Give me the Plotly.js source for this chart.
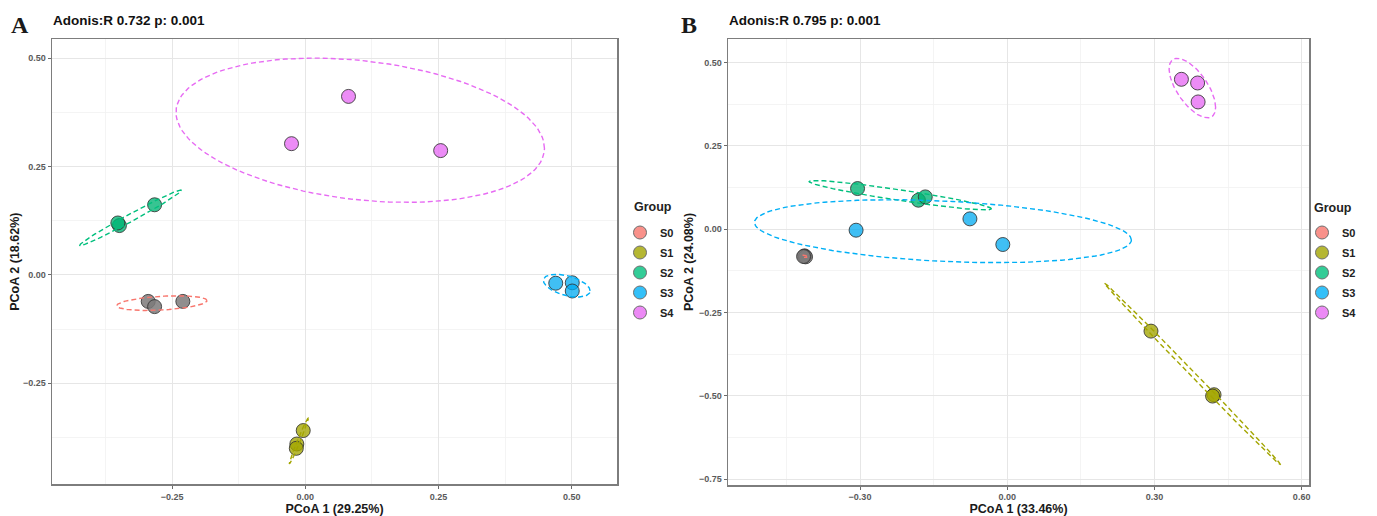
<!DOCTYPE html>
<html>
<head>
<meta charset="utf-8">
<script src="https://cdn.plot.ly/plotly-3.0.1.min.js"></script>
<style>
  html, body { margin: 0; padding: 0; background: #ffffff; }
  #chart { width: 1377px; height: 516px; }
</style>
</head>
<body>
<div id="chart"></div>
<script>
// ---------------- data ----------------
const groups = ['S0', 'S1', 'S2', 'S3', 'S4'];

// Panel A (PCoA 1 29.25%, PCoA 2 18.62%)
const A_S0_x = [-0.295, -0.283, -0.230];
const A_S0_y = [-0.061, -0.073, -0.061];
const A_S1_x = [-0.004, -0.016, -0.017];
const A_S1_y = [-0.359, -0.390, -0.400];
const A_S2_x = [-0.349, -0.352, -0.283];
const A_S2_y = [0.114, 0.120, 0.162];
const A_S3_x = [0.470, 0.501, 0.501];
const A_S3_y = [-0.019, -0.018, -0.037];
const A_S4_x = [0.081, -0.026, 0.254];
const A_S4_y = [0.412, 0.303, 0.287];

// Panel B (PCoA 1 33.46%, PCoA 2 24.08%)
const B_S0_x = [-0.413, -0.411, -0.415];
const B_S0_y = [-0.080, -0.083, -0.082];
const B_S1_x = [0.293, 0.4215, 0.4185];
const B_S1_y = [-0.306, -0.497, -0.501];
const B_S2_x = [-0.305, -0.181, -0.167];
const B_S2_y = [0.122, 0.087, 0.097];
const B_S3_x = [-0.308, -0.076, -0.009];
const B_S3_y = [-0.003, 0.031, -0.046];
const B_S4_x = [0.355, 0.388, 0.389];
const B_S4_y = [0.450, 0.439, 0.382];

const panelA = { S0: [A_S0_x, A_S0_y], S1: [A_S1_x, A_S1_y], S2: [A_S2_x, A_S2_y], S3: [A_S3_x, A_S3_y], S4: [A_S4_x, A_S4_y] };
const panelB = { S0: [B_S0_x, B_S0_y], S1: [B_S1_x, B_S1_y], S2: [B_S2_x, B_S2_y], S3: [B_S3_x, B_S3_y], S4: [B_S4_x, B_S4_y] };

const titleA = 'Adonis:R 0.732 p: 0.001';
const titleB = 'Adonis:R 0.795 p: 0.001';
const xTitleA = 'PCoA 1 (29.25%)';
const yTitleA = 'PCoA 2 (18.62%)';
const xTitleB = 'PCoA 1 (33.46%)';
const yTitleB = 'PCoA 2 (24.08%)';
const legendTitle = 'Group';

// ---------------- styles ----------------
const palette = { S0: '#F8766D', S1: '#A3A500', S2: '#00BF7D', S3: '#00B0F6', S4: '#E76BF3' };
const pointFill = {
  S0: 'rgba(125,122,122,0.85)', S1: 'rgba(163,165,0,0.78)', S2: 'rgba(0,180,115,0.78)',
  S3: 'rgba(0,170,240,0.75)', S4: 'rgba(231,107,243,0.78)'
};
const legendFill = {
  S0: 'rgba(248,118,109,0.8)', S1: 'rgba(163,165,0,0.8)', S2: 'rgba(0,191,125,0.8)',
  S3: 'rgba(0,176,246,0.8)', S4: 'rgba(231,107,243,0.8)'
};
const SANS = '"Liberation Sans", Arial, Helvetica, sans-serif';

// 95% normal-theory ellipse from the sample covariance of the points
function ellipse(xs, ys) {
  const n = xs.length;
  const mx = xs.reduce((a, b) => a + b, 0) / n;
  const my = ys.reduce((a, b) => a + b, 0) / n;
  let sxx = 0, syy = 0, sxy = 0;
  for (let i = 0; i < n; i++) {
    sxx += (xs[i] - mx) ** 2; syy += (ys[i] - my) ** 2; sxy += (xs[i] - mx) * (ys[i] - my);
  }
  sxx /= (n - 1); syy /= (n - 1); sxy /= (n - 1);
  const r = Math.sqrt(-2 * Math.log(0.05));
  const a = Math.sqrt(sxx);
  const b = a > 0 ? sxy / a : 0;
  const c = Math.sqrt(Math.max(syy - b * b, 0));
  const ex = [], ey = [];
  for (let k = 0; k <= 120; k++) {
    const t = 2 * Math.PI * k / 120;
    ex.push(mx + r * a * Math.cos(t));
    ey.push(my + r * (b * Math.cos(t) + c * Math.sin(t)));
  }
  return [ex, ey];
}

const traces = [];
function addPanel(panel, xa, ya, legendName) {
  groups.forEach(g => {
    const [xs, ys] = panel[g];
    traces.push({
      type: 'scatter', mode: 'markers', x: xs, y: ys, xaxis: xa, yaxis: ya,
      showlegend: false, hoverinfo: 'x+y', name: g,
      marker: { size: 14, color: pointFill[g], line: { color: 'rgba(50,50,50,0.85)', width: 1 } }
    });
  });
  groups.forEach(g => {
    const [xs, ys] = panel[g];
    const [ex, ey] = ellipse(xs, ys);
    traces.push({
      type: 'scatter', mode: 'lines', x: ex, y: ey, xaxis: xa, yaxis: ya,
      showlegend: false, hoverinfo: 'skip',
      line: { color: palette[g], width: 1.4, dash: '5px,3px' }
    });
  });
  groups.forEach(g => {
    traces.push({
      type: 'scatter', mode: 'markers', x: [null], y: [null], xaxis: xa, yaxis: ya,
      name: g, legend: legendName, legendgroup: legendName + g, showlegend: true,
      marker: { size: 13, color: legendFill[g], line: { color: '#6e6e6e', width: 1 } }
    });
  });
}
addPanel(panelA, 'x', 'y', 'legend');
addPanel(panelB, 'x2', 'y2', 'legend2');

const W = 1377, H = 516;
const px = v => v / W;
const py = v => (H - v) / H;

function axisBase(extra, minorStep) {
  return Object.assign({
    showgrid: true, gridcolor: '#E6E6E6', gridwidth: 1,
    zeroline: false, showline: true, mirror: true, linecolor: '#7d7d7d', linewidth: 1.5,
    ticks: 'outside', ticklen: 3, tickwidth: 1, tickcolor: '#6a6a6a',
    tickfont: { family: SANS, size: 9, color: '#5a5a5a', weight: 'bold' },
    tickformat: '.2f', fixedrange: true,
    minor: { showgrid: true, gridcolor: '#F1F1F1', gridwidth: 0.8, dtick: minorStep, tick0: minorStep / 2 }
  }, extra);
}
const titleFont = { family: SANS, size: 12.5, color: '#1a1a1a', weight: 'bold' };

const legendBase = {
  xanchor: 'left', yanchor: 'top', bgcolor: 'rgba(0,0,0,0)', borderwidth: 0,
  font: { family: SANS, size: 11, color: '#222', weight: 'bold' },
  tracegroupgap: 1, itemclick: false, itemdoubleclick: false
};

const layout = {
  width: W, height: H, autosize: false,
  margin: { l: 0, r: 0, t: 0, b: 0 },
  paper_bgcolor: '#ffffff', plot_bgcolor: '#ffffff',
  showlegend: true,
  xaxis: axisBase({ domain: [px(52), px(617)], anchor: 'y', range: [-0.4756, 0.585], dtick: 0.25, tick0: 0,
    title: { text: xTitleA, font: titleFont, standoff: 1 } }, 0.25),
  yaxis: axisBase({ domain: [py(484.3), py(39)], anchor: 'x', range: [-0.483, 0.5445], dtick: 0.25, tick0: 0,
    title: { text: yTitleA, font: titleFont, standoff: 0 } }, 0.25),
  xaxis2: axisBase({ domain: [px(728), px(1309)], anchor: 'y2', range: [-0.569, 0.615], dtick: 0.3, tick0: 0,
    title: { text: xTitleB, font: titleFont, standoff: 1 } }, 0.3),
  yaxis2: axisBase({ domain: [py(485), py(39)], anchor: 'x2', range: [-0.768, 0.571], dtick: 0.25, tick0: 0,
    title: { text: yTitleB, font: titleFont, standoff: 2 } }, 0.25),
  legend: Object.assign({ x: px(620), y: py(218) }, legendBase),
  legend2: Object.assign({ x: px(1302), y: py(218) }, legendBase),
  annotations: [
    { text: 'A', xref: 'paper', yref: 'paper', x: px(20), y: py(25), xanchor: 'center', yanchor: 'middle', showarrow: false,
      font: { family: '"Liberation Serif", "Times New Roman", serif', size: 24, color: '#1a1a1a', weight: 'bold' } },
    { text: titleA, xref: 'paper', yref: 'paper', x: px(51), y: py(21), xanchor: 'left', yanchor: 'middle', showarrow: false,
      font: { family: SANS, size: 13.5, color: '#111', weight: 'bold' } },
    { text: 'B', xref: 'paper', yref: 'paper', x: px(689), y: py(25), xanchor: 'center', yanchor: 'middle', showarrow: false,
      font: { family: '"Liberation Serif", "Times New Roman", serif', size: 24, color: '#1a1a1a', weight: 'bold' } },
    { text: titleB, xref: 'paper', yref: 'paper', x: px(727), y: py(21), xanchor: 'left', yanchor: 'middle', showarrow: false,
      font: { family: SANS, size: 13.5, color: '#111', weight: 'bold' } },
    { text: legendTitle, xref: 'paper', yref: 'paper', x: px(632), y: py(207), xanchor: 'left', yanchor: 'middle', showarrow: false,
      font: { family: SANS, size: 12.5, color: '#222', weight: 'bold' } },
    { text: legendTitle, xref: 'paper', yref: 'paper', x: px(1312), y: py(208), xanchor: 'left', yanchor: 'middle', showarrow: false,
      font: { family: SANS, size: 12.5, color: '#222', weight: 'bold' } }
  ]
};

Plotly.newPlot('chart', traces, layout, { staticPlot: true, displayModeBar: false });
</script>
</body>
</html>
